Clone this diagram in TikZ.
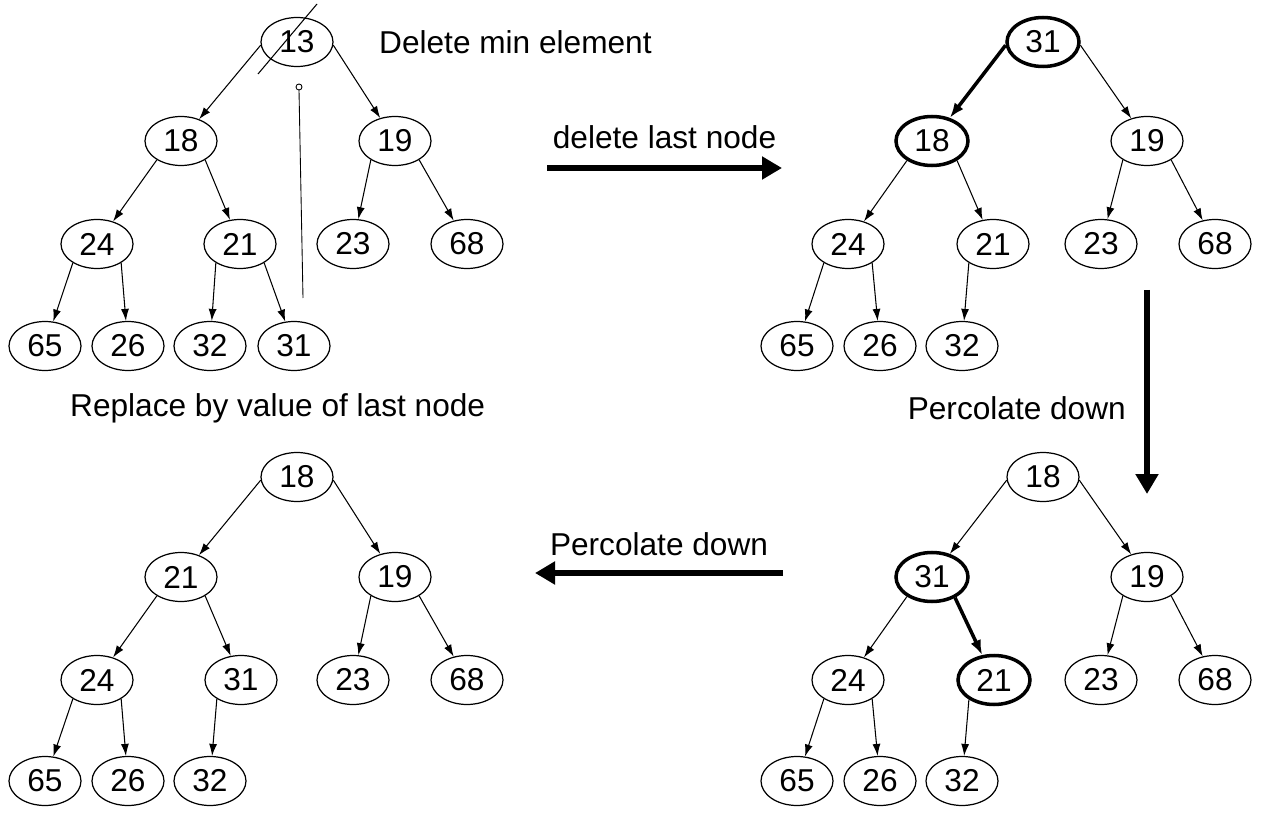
\documentclass[tikz,border=0pt]{standalone}
\usepackage{fontspec}
\setmainfont{Liberation Sans}
\usetikzlibrary{arrows.meta, shapes.geometric}

\begin{document}
\begin{tikzpicture}[
    x=0.02cm, y=-0.02cm,
    every node/.style={font=\fontsize{18}{20}\selectfont},
    key/.style={ellipse, draw, line width=0.7pt, minimum width=1.44cm,
        minimum height=0.98cm, inner sep=0pt},
    hot/.style={key, line width=2pt},
    edge/.style={line width=0.6pt, -{Latex[length=2.4mm, width=1.6mm]}},
    hotedge/.style={line width=2pt, -{Latex[length=3mm, width=2.2mm]}},
    bigarrow/.style={line width=3pt, -{Triangle[length=4mm, width=4.4mm]}},
    note/.style={anchor=west},
]
    \useasboundingbox (0,0) rectangle (1265,814);

    % ── Tree 1: delete the minimum ───────────────
    \node[key] (a13) at (297,42) {13};
    \node[key] (a18) at (181,141) {18};
    \node[key] (a19) at (395,141) {19};
    \node[key] (a24) at (97,244)  {24};
    \node[key] (a21) at (240,244) {21};
    \node[key] (a23) at (353,244) {23};
    \node[key] (a68) at (467,244) {68};
    \node[key] (a65) at (45,346)  {65};
    \node[key] (a26) at (128,346) {26};
    \node[key] (a32) at (210,346) {32};
    \node[key] (a31) at (294,346) {31};

    \draw[edge] (a13.185) -- (a18);
    \draw[edge] (a13.355) -- (a19);
    \draw[edge] (a18.218) -- (a24);
    \draw[edge] (a18.322) -- (a21);
    \draw[edge] (a19.218) -- (a23);
    \draw[edge] (a19.322) -- (a68);
    \draw[edge] (a24.218) -- (a65);
    \draw[edge] (a24.322) -- (a26);
    \draw[edge] (a21.218) -- (a32);
    \draw[edge] (a21.322) -- (a31);

    % strike through the root, last value moves up
    \coordinate (cutA) at (317,4);
    \coordinate (cutB) at (258,74);
    \draw[line width=0.6pt] (cutA) -- (cutB);
    \coordinate (upTop) at (299,90);
    \coordinate (upBot) at (303,298);
    \draw[line width=0.5pt] (upBot) -- (upTop);
    \draw[line width=0.5pt] (upTop) ++(0,-3) circle (3);

    \node[note] (tDel) at (373,42) {Delete min element};
    \node[note] (tRep) at (64,408) {Replace by value of last node};

    % ── Tree 2: last node removed ────────────────
    \node[hot] (b31) at (1043,42)  {31};
    \node[hot] (b18) at (932,141)  {18};
    \node[key] (b19) at (1147,141) {19};
    \node[key] (b24) at (848,244)  {24};
    \node[key] (b21) at (993,244)  {21};
    \node[key] (b23) at (1101,244) {23};
    \node[key] (b68) at (1215,244) {68};
    \node[key] (b65) at (797,346)  {65};
    \node[key] (b26) at (880,346)  {26};
    \node[key] (b32) at (962,346)  {32};

    \draw[hotedge] (b31.185) -- (b18);
    \draw[edge] (b31.355) -- (b19);
    \draw[edge] (b18.218) -- (b24);
    \draw[edge] (b18.322) -- (b21);
    \draw[edge] (b19.218) -- (b23);
    \draw[edge] (b19.322) -- (b68);
    \draw[edge] (b24.218) -- (b65);
    \draw[edge] (b24.322) -- (b26);
    \draw[edge] (b21.218) -- (b32);

    % ── Tree 3: first swap ───────────────────────
    \node[key] (c18) at (1043,477) {18};
    \node[hot] (c31) at (932,577)  {31};
    \node[key] (c19) at (1147,577) {19};
    \node[key] (c24) at (848,680)  {24};
    \node[hot] (c21) at (994,680)  {21};
    \node[key] (c23) at (1101,680) {23};
    \node[key] (c68) at (1215,680) {68};
    \node[key] (c65) at (797,781)  {65};
    \node[key] (c26) at (880,781)  {26};
    \node[key] (c32) at (962,781)  {32};

    \draw[edge] (c18.185) -- (c31);
    \draw[edge] (c18.355) -- (c19);
    \draw[edge] (c31.218) -- (c24);
    \draw[hotedge] (c31.318) -- (c21);
    \draw[edge] (c19.218) -- (c23);
    \draw[edge] (c19.322) -- (c68);
    \draw[edge] (c24.218) -- (c65);
    \draw[edge] (c24.322) -- (c26);
    \draw[edge] (c21.218) -- (c32);

    % ── Tree 4: result ───────────────────────────
    \node[key] (d18) at (297,477) {18};
    \node[key] (d21) at (181,577) {21};
    \node[key] (d19) at (395,577) {19};
    \node[key] (d24) at (97,680)  {24};
    \node[key] (d31) at (241,680) {31};
    \node[key] (d23) at (353,680) {23};
    \node[key] (d68) at (467,680) {68};
    \node[key] (d65) at (45,781)  {65};
    \node[key] (d26) at (128,781) {26};
    \node[key] (d32) at (210,781) {32};

    \draw[edge] (d18.185) -- (d21);
    \draw[edge] (d18.355) -- (d19);
    \draw[edge] (d21.218) -- (d24);
    \draw[edge] (d21.322) -- (d31);
    \draw[edge] (d19.218) -- (d23);
    \draw[edge] (d19.322) -- (d68);
    \draw[edge] (d24.218) -- (d65);
    \draw[edge] (d24.322) -- (d26);
    \draw[edge] (d31.218) -- (d32);

    % ── Step arrows ──────────────────────────────
    \coordinate (s1a) at (547,168);
    \coordinate (s1b) at (782,168);
    \draw[bigarrow] (s1a) -- (s1b)
        node[midway, above=6pt] (tLast) {delete last node};

    \coordinate (s2a) at (1147,290);
    \coordinate (s2b) at (1147,494);
    \draw[bigarrow] (s2a) -- (s2b);
    \node[anchor=east] (tPerc1) at (1132,408) {Percolate down};

    \coordinate (s3a) at (783,573);
    \coordinate (s3b) at (535,573);
    \draw[bigarrow] (s3a) -- (s3b)
        node[midway, above=5pt] (tPerc2) {Percolate down};
\end{tikzpicture}
\end{document}
